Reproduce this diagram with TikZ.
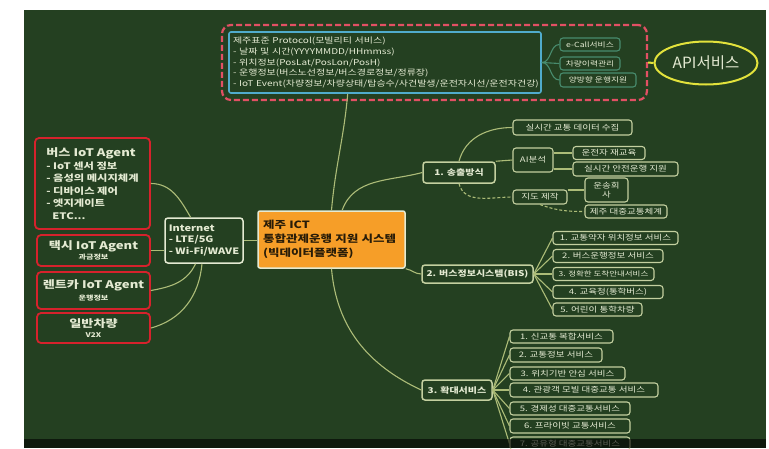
\documentclass[tikz,border=0pt]{standalone}
\usepackage{fontspec}
\setmainfont{Noto Sans CJK KR}[FakeStretch=1.25]
\newfontfamily\krplain{Noto Sans CJK KR}
\usetikzlibrary{shapes.geometric}
\definecolor{bgc}{RGB}{36,64,33}
\definecolor{txtc}{RGB}{228,234,210}
\definecolor{boxc}{RGB}{196,208,160}
\definecolor{linec}{RGB}{172,188,120}
\definecolor{redc}{RGB}{214,34,44}
\definecolor{dashc}{RGB}{226,80,100}
\definecolor{bluec}{RGB}{80,172,204}
\definecolor{tealc}{RGB}{72,140,110}
\definecolor{yelc}{RGB}{226,226,60}
\definecolor{orc}{RGB}{246,158,40}
\definecolor{darktxt}{RGB}{40,28,8}
\begin{document}
\begin{tikzpicture}[x=1pt,y=-1pt,
  wh/.style 2 args={minimum width=#1pt, minimum height=#2pt},
  conn/.style={draw=linec, line width=1.1pt},
  dconn/.style={conn, dash pattern=on 3pt off 2pt},
  cbox/.style={draw=boxc, line width=1.1pt, rounded corners=3pt, text=txtc, inner sep=0pt,
    font=\fontsize{7.6}{9}\selectfont, align=center},
  bbox/.style={cbox, line width=1.5pt, font=\bfseries\fontsize{8}{10}\selectfont},
  tbox/.style={draw=tealc, line width=1.1pt, rounded corners=3pt, text=txtc, inner sep=0pt,
    font=\fontsize{7}{8}\selectfont},
  redbox/.style={draw=redc, line width=1.8pt, rounded corners=4pt, text=txtc, inner sep=0pt,
    align=center, font=\bfseries\fontsize{10.5}{12.5}\selectfont},
  dashbox/.style={draw=dashc, line width=2.2pt, dash pattern=on 6pt off 3pt, rounded corners=9pt, inner sep=0pt},
  bluebox/.style={draw=bluec, line width=1.6pt, rounded corners=2pt, text=txtc, inner xsep=4pt, inner ysep=2pt,
    align=left, font=\fontsize{8}{10.8}\selectfont},
  apiell/.style={ellipse, draw=yelc, line width=2pt, text=txtc, inner sep=0pt,
    font=\krplain\fontsize{15.5}{17}\selectfont},
  corebox/.style={fill=orc, draw=txtc, line width=1.5pt, rounded corners=2pt, text=darktxt, inner xsep=5pt,
    inner ysep=2pt, align=left, font=\bfseries\fontsize{10}{14}\selectfont},
  inetbox/.style={draw=txtc, line width=1.5pt, rounded corners=3pt, text=txtc, inner sep=0pt, align=left,
    font=\bfseries\fontsize{8.8}{11.5}\selectfont}
]
\useasboundingbox (0,0) rectangle (769,448);
\fill[white] (0,0) rectangle (769,448);
\fill[bgc] (24,10) rectangle (766,448);

% top protocol area
\node[dashbox, wh={425}{75}] (area) at (434.5,62.5) {};
\node[bluebox, text width=304pt, minimum height=61pt] (proto) at (385,62.5)
  {제주표준 Protocol(모빌리티 서비스)\\
   - 날짜 및 시간(YYYYMMDD/HHmmss)\\
   - 위치정보(PosLat/PosLon/PosH)\\
   - 운행정보(버스노선정보/버스경로정보/정류장)\\
   - IoT Event(차량정보/차량상태/탑승수/사건발생/운전자시선/운전자건강)};
\node[tbox, wh={60}{13}] (ecall) at (590,44.5) {e-Call서비스};
\node[tbox, wh={60}{13}] (hist) at (590,63.5) {차량이력관리};
\node[tbox, wh={76}{14}] (twoway) at (598,80) {양방향 운행지원};
\node[apiell, wh={103}{43}] (api) at (706,63) {API서비스};

% center
\node[corebox, text width=137pt, minimum height=57pt] (core) at (331.5,239.5)
  {제주 ICT\\통합관제운행 지원 시스템\\(빅데이터플랫폼)};
\node[inetbox, wh={78}{45}] (inet) at (204,240.5) {Internet\\- LTE/5G\\- Wi-Fi/WAVE};

% left agents
\node[redbox, wh={115}{91}, align=left, font=\bfseries\fontsize{9}{12.5}\selectfont] (bus) at (92.5,183.5)
  {{\fontsize{10.5}{12.5}\selectfont 버스 IoT Agent}\\
   - IoT 센서 정보\\
   - 음성의 메시지체계\\
   - 디바이스 제어\\
   - 엣지게이트\\
   \hspace*{6pt}ETC...};
\node[redbox, wh={113}{31}] (taxi) at (93.5,250.5) {택시 IoT Agent\\[-2pt]{\fontsize{6.5}{7}\selectfont 과금정보}};
\node[redbox, wh={113}{37}] (rent) at (93.5,290.5) {렌트카 IoT Agent\\[-1pt]{\fontsize{6.5}{7}\selectfont 운행정보}};
\node[redbox, wh={113}{30}] (car) at (93.5,328) {일반차량\\[-2pt]{\fontsize{6.5}{7}\selectfont V2X}};

% branch 1
\node[bbox, wh={72}{21}] (b1) at (459,172.5) {1. 송출방식};
\node[cbox, wh={119}{15}] (c11) at (572.5,127.5) {실시간 교통 데이터 수집};
\node[cbox, wh={40}{24}] (ai) at (533,160) {AI분석};
\node[cbox, wh={72}{13}] (ai1) at (609,153) {운전자 재교육};
\node[cbox, wh={105}{14}] (ai2) at (625.5,169) {실시간 안전운행 지원};
\node[cbox, wh={54}{14}] (map) at (540,197) {지도 제작};
\node[cbox, wh={43}{24}] (map1) at (606.5,190) {운송회\\사};
\node[cbox, wh={82}{13}] (map2) at (626,211.5) {제주 대중교통체계};

% branch 2
\node[bbox, wh={111}{18}] (b2) at (477.5,274) {2. 버스정보시스템(BIS)};
\node[cbox, wh={125}{13}] (b21) at (615.5,238) {1. 교통약자 위치정보 서비스};
\node[cbox, wh={110}{13}] (b22) at (608,256) {2. 버스운행정보 서비스};
\node[cbox, wh={101}{13}, font=\fontsize{6.8}{8}\selectfont] (b23) at (603.5,274) {3. 정확한 도착안내서비스};
\node[cbox, wh={110}{13}] (b24) at (608,292) {4. 교육청(통학버스)};
\node[cbox, wh={89}{13}] (b25) at (597.5,309.5) {5. 어린이 통학차량};

% branch 3
\node[bbox, wh={70}{20}] (b3) at (457,390) {3. 확대서비스};
\node[cbox, wh={103}{13}] (b31) at (561.5,336.5) {1. 신교통 복합서비스};
\node[cbox, wh={92}{14}] (b32) at (556,355) {2. 교통정보 서비스};
\node[cbox, wh={115}{13}] (b33) at (567.5,373.5) {3. 위치기반 안심 서비스};
\node[cbox, wh={148}{14}] (b34) at (584,390) {4. 관광객 모빌 대중교통 서비스};
\node[cbox, wh={120}{13}] (b35) at (570,408.5) {5. 경제성 대중교통서비스};
\node[cbox, wh={120}{14}] (b36) at (570,426) {6. 프라이빗 교통서비스};
\node[cbox, wh={120}{13}] (b37) at (570,443.5) {7. 공유형 대중교통서비스};

% connectors
\draw[draw=yelc, line width=2pt] (area.east) -- (api.west);
\draw[draw=tealc, line width=1.1pt] (proto.east) to[out=0,in=180] (ecall.west);
\draw[draw=tealc, line width=1.1pt] (proto.east) -- (hist.west);
\draw[draw=tealc, line width=1.1pt] (proto.east) to[out=0,in=180] (twoway.west);
\draw[conn] (proto.220) to[out=-95,in=85] (core.north);
\draw[conn] (core.70) to[out=70,in=195] (b1.west);
\draw[conn] (core.south east) to[out=-10,in=180] (b2.west);
\draw[conn] (core.south) to[out=-85,in=155] (b3.west);
\draw[conn] (inet.east) -- (core.west |- inet.east);

\draw[conn] (bus.east) to[out=0,in=120] (inet.120);
\draw[conn] (taxi.east) -- (inet.west |- taxi.east);
\draw[conn] (rent.east) to[out=10,in=-115] (inet.250);
\draw[conn] (car.east) to[out=15,in=-95] (inet.265);

\draw[conn] (b1.north) to[out=75,in=180] (c11.west);
\draw[conn] (b1.north east) -- (ai.west);
\draw[conn] (ai.east |- ai1.west) -- (ai1.west);
\draw[conn] (ai.east |- ai2.west) -- (ai2.west);
\draw[dconn] (b1.south) to[out=-75,in=180] (map.west);
\draw[conn] (map.east |- map1.west) -- (map1.west);
\draw[dconn] (map.south) to[out=-20,in=180] (map2.west);

\foreach \n in {b21,b22,b23,b24,b25} \draw[conn] (b2.east) -- (\n.west);
\foreach \n in {b31,b32,b33,b34,b35,b36,b37} \draw[conn] (b3.east) -- (\n.west);

% bottom dark band
\fill[black, opacity=0.6] (24,439) rectangle (766,448);
\end{tikzpicture}
\end{document}
